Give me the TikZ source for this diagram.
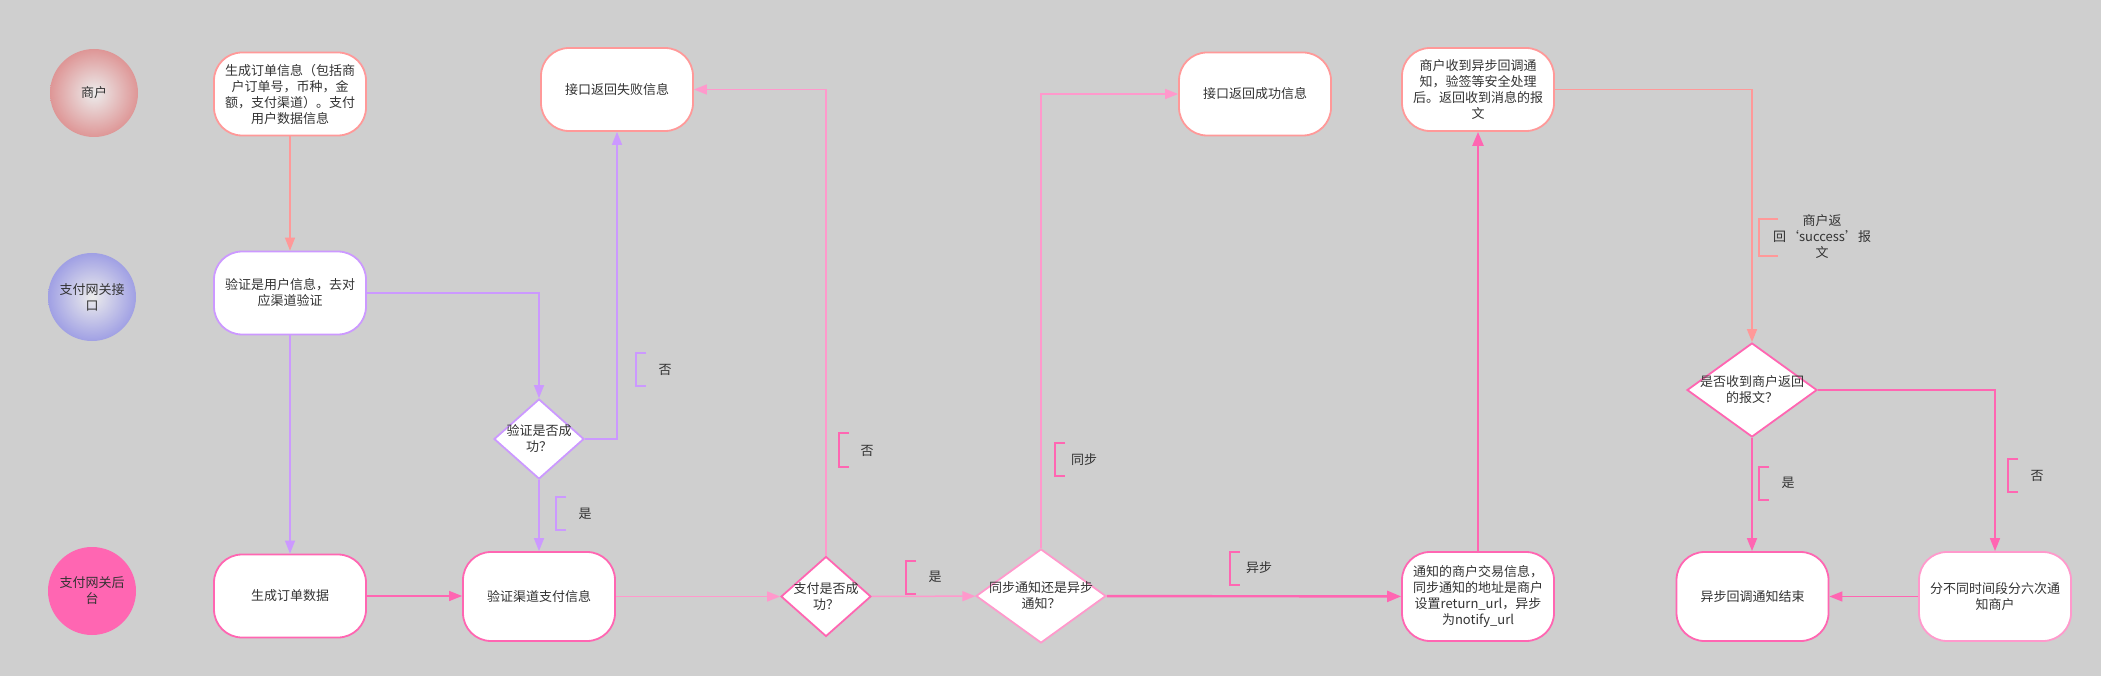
\documentclass[tikz,border=0pt]{standalone}
\usepackage{fontspec}
\setmainfont{Noto Sans CJK SC}
\usetikzlibrary{shapes.geometric,arrows.meta}
\definecolor{bg}{RGB}{207,207,207}
\definecolor{salmon}{RGB}{255,153,153}
\definecolor{lav}{RGB}{204,153,255}
\definecolor{hpink}{RGB}{255,102,178}
\definecolor{lpink}{RGB}{255,153,204}
\definecolor{txt}{RGB}{51,51,51}
\definecolor{redge}{RGB}{222,150,150}
\definecolor{bedge}{RGB}{160,160,228}
\definecolor{ccenter}{RGB}{236,236,236}
\begin{document}
\begin{tikzpicture}[x=1pt,y=-1pt,
  font=\fontsize{13}{16}\selectfont, text=txt,
  box/.style={draw, fill=white, rounded corners=28pt, minimum width=152pt, minimum height=83pt, line width=1.8pt, align=center, inner sep=0pt},
  tallbox/.style={box, minimum height=89pt},
  dia/.style={draw, fill=white, diamond, inner sep=0pt, line width=1.8pt},
  lane/.style={circle, minimum size=88pt, inner sep=0pt, align=center},
  conn/.style={line width=1.5pt, -{Triangle[length=13pt,width=10pt]}},
  thick conn/.style={line width=2.4pt, -{Triangle[length=14pt,width=11pt]}},
  brk/.style={line width=1.8pt},
  lbl/.style={inner sep=0pt, align=center}]
\useasboundingbox (0,0) rectangle (2101,676);
\fill[bg] (0,0) rectangle (2101,676);

% lanes
\node[lane, inner color=ccenter, outer color=redge] (L1) at (94,93) {商户};
\node[lane, inner color=ccenter, outer color=bedge] (L2) at (92,297) {支付网关接\\口};
\node[lane, fill=hpink] (L3) at (92,591) {支付网关后\\台};

% boxes
\node[box, draw=salmon] (A) at (290,94) {生成订单信息（包括商\\户订单号，币种，金\\额，支付渠道）。支付\\用户数据信息};
\node[box, draw=lav] (B) at (290,293) {验证是用户信息，去对\\应渠道验证};
\node[box, draw=hpink] (C) at (290,596) {生成订单数据};
\node[tallbox, draw=hpink] (D) at (539,596.5) {验证渠道支付信息};
\node[box, draw=salmon] (E) at (617,89.5) {接口返回失败信息};
\node[box, draw=salmon] (F) at (1255,94) {接口返回成功信息};
\node[box, draw=salmon] (G) at (1478,89.5) {商户收到异步回调通\\知，验签等安全处理\\后。返回收到消息的报\\文};
\node[tallbox, draw=hpink] (H) at (1478,596.5) {通知的商户交易信息，\\同步通知的地址是商户\\设置return\_url，异步\\为notify\_url};
\node[tallbox, draw=hpink] (I) at (1752.5,596.5) {异步回调通知结束};
\node[tallbox, draw=lpink] (J) at (1995,596.5) {分不同时间段分六次通\\知商户};

% diamonds
\node[dia, draw=lav, minimum width=90pt, minimum height=80pt] (K) at (539,439) {};
\node[lbl] (Kt) at (K) {验证是否成\\功？};
\node[dia, draw=hpink, minimum width=90pt, minimum height=80pt] (Lq) at (826,596.5) {};
\node[lbl] (Lqt) at (Lq) {支付是否成\\功？};
\node[dia, draw=lpink, minimum width=130pt, minimum height=94pt] (M) at (1041,596) {};
\node[lbl] (Mt) at (M) {同步通知还是异步\\通知？};
\node[dia, draw=hpink, minimum width=130pt, minimum height=94pt] (N) at (1752,390) {};
\node[lbl] (Nt) at (N) {是否收到商户返回\\的报文？};

% connectors
\draw[conn, salmon] (A) -- (B);
\draw[conn, lav] (B.east) -| (K.north);
\draw[conn, lav] (B) -- (B |- C.north);
\draw[conn, lav] (K.east) -| (E.south);
\draw[conn, lav] (K) -- (D);
\draw[conn, hpink] (C.east) -- (D.west |- C.east);
\draw[conn, lpink] (D) -- (Lq);
\draw[conn, lpink] (Lq.north) |- (E.east);
\draw[conn, lpink] (Lq) -- (M);
\draw[conn, lpink] (M.north) |- (F.west);
\draw[thick conn, hpink] (M) -- (H);
\draw[thick conn, hpink] (H) -- (G);
\draw[conn, salmon] (G.east) -| (N.north);
\draw[conn, hpink] (N) -- (N |- I.north);
\draw[conn, hpink] (N.east) -| (J.north);
\draw[conn, hpink] (J) -- (I);

% branch labels
\draw[brk, lav] (646,353) -- (636,353) -- (636,386) -- (646,386);
\node[lbl] (t1) at (665,370) {否};
\draw[brk, lav] (566,497) -- (556,497) -- (556,530) -- (566,530);
\node[lbl] (t2) at (585,514) {是};
\draw[brk, hpink] (849,433) -- (839,433) -- (839,467) -- (849,467);
\node[lbl] (t3) at (867,451) {否};
\draw[brk, hpink] (916,561) -- (906,561) -- (906,594) -- (916,594);
\node[lbl] (t4) at (935,577) {是};
\draw[brk, hpink] (1065,443) -- (1055,443) -- (1055,476) -- (1065,476);
\node[lbl] (t5) at (1084,460) {同步};
\draw[brk, hpink] (1240,552) -- (1230,552) -- (1230,585) -- (1240,585);
\node[lbl] (t6) at (1259,568) {异步};
\draw[brk, salmon] (1778,219) -- (1759,219) -- (1759,256) -- (1778,256);
\node[lbl] (t7) at (1822,237) {商户返\\回‘success’报\\文};
\draw[brk, hpink] (1769,467) -- (1759,467) -- (1759,500) -- (1769,500);
\node[lbl] (t8) at (1788,483) {是};
\draw[brk, hpink] (2018,459) -- (2008,459) -- (2008,492) -- (2018,492);
\node[lbl] (t9) at (2037,476) {否};
\end{tikzpicture}
\end{document}
